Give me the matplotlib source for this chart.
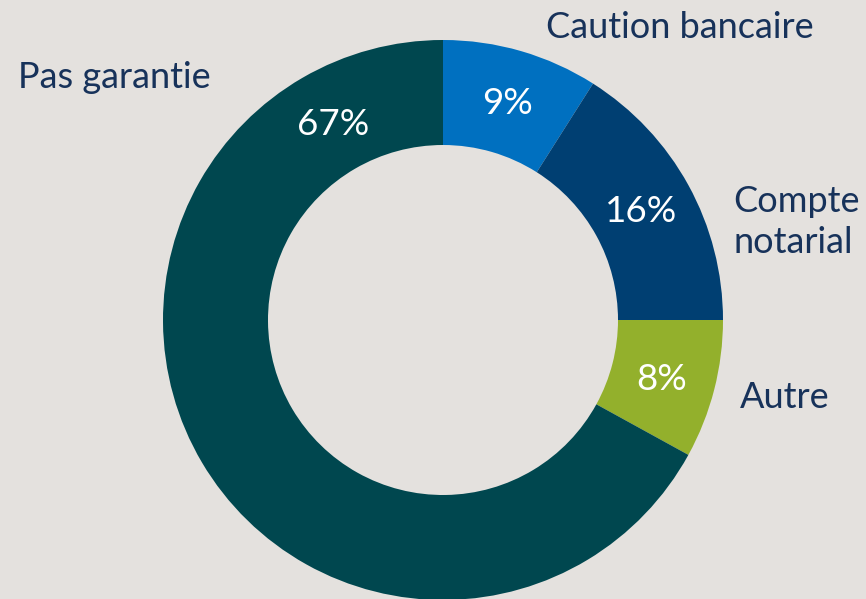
import matplotlib.pyplot as plt

labels = ["Caution bancaire", "Compte\nnotarial", "Autre", "Pas garantie"]
values = [9, 16, 8, 67]
colors = ["#0070C0", "#003F72", "#93B02C", "#00474F"]

bg = "#E4E1DE"
txt = "#17325A"

plt.rcParams["font.family"] = ["Lato", "DejaVu Sans"]

fig = plt.figure(figsize=(8.66, 5.99), dpi=100, facecolor=bg)
W, H = 866, 599
cx, cy, r = 443, 320, 280
ax = fig.add_axes([(cx - r) / W, (H - cy - r) / H, 2 * r / W, 2 * r / H])
ax.set_facecolor(bg)

ax.pie(values, colors=colors, startangle=90, counterclock=False,
       radius=1, wedgeprops=dict(width=105 / 280, linewidth=0))
ax.set_xlim(-1, 1)
ax.set_ylim(-1, 1)
ax.set_aspect("equal")
ax.axis("off")

# label positions in pixels (x, y from top)
lab_pos = [(546, 28), (733, 222), (740, 397), (18, 78)]
pct_pos = [(507, 103), (641, 212), (662, 380), (333, 124)]

for lab, (x, y) in zip(labels, lab_pos):
    fig.text(x / W, 1 - y / H, lab, ha="left", va="center", fontsize=26,
             color=txt, linespacing=1.32)

for v, (x, y) in zip(values, pct_pos):
    fig.text(x / W, 1 - y / H, f"{v}%", ha="center", va="center",
             fontsize=26.5, color="white")

fig.savefig("out.png", dpi=100, facecolor=bg)
